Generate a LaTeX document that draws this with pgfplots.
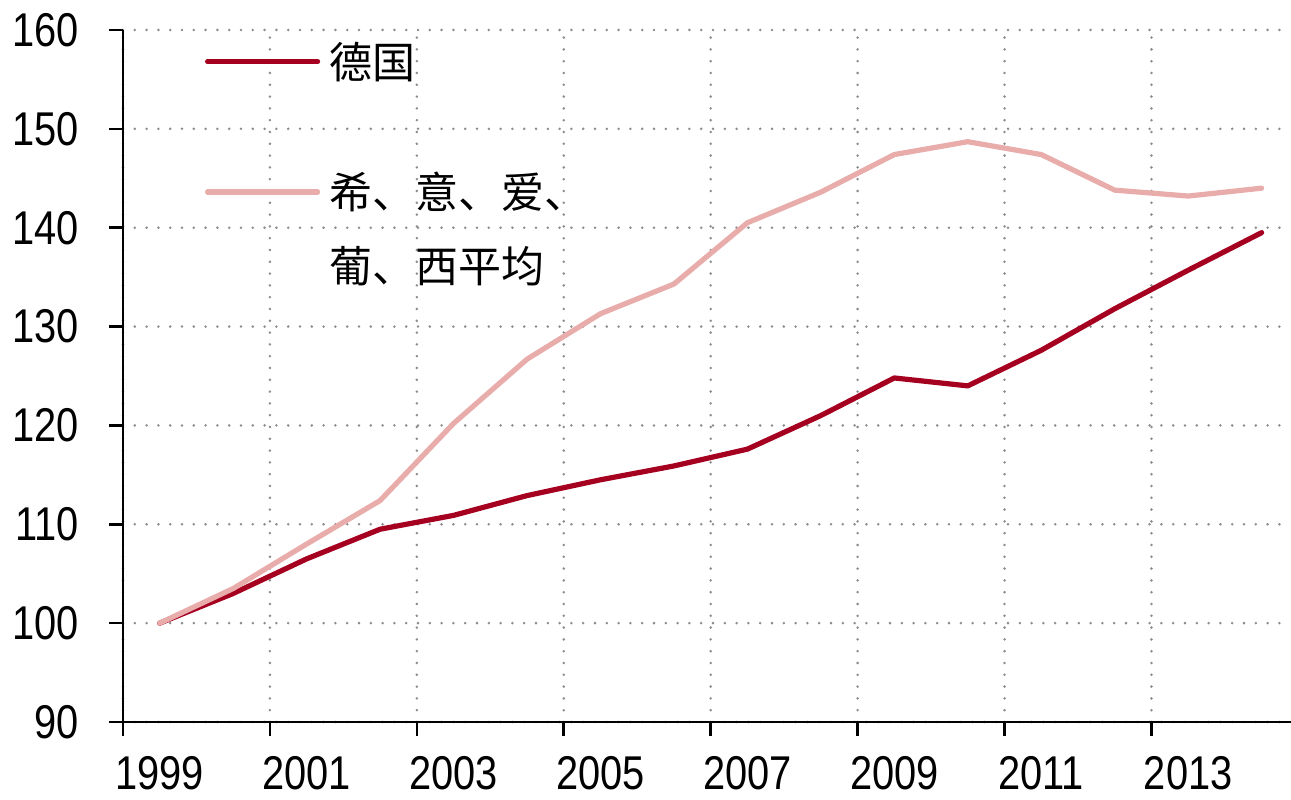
\documentclass[border=0pt]{standalone}
\usepackage{pgfplots}
\pgfplotsset{compat=1.18}
\usepackage{fontspec}
\setmainfont{Liberation Sans}
\newfontfamily\numfont{Liberation Sans}[FakeStretch=0.84]
\newfontfamily\cjk{Noto Sans CJK SC}
\definecolor{de}{RGB}{166,0,33}
\definecolor{gr}{RGB}{232,172,170}
\definecolor{gridc}{RGB}{140,140,140}
\begin{document}
\begin{tikzpicture}
\begin{axis}[
  scale only axis, width=584pt, height=346pt,
  xmin=1999, xmax=2014.9, ymin=90, ymax=160,
  axis lines=left, axis line style={line width=1.3pt, -},
  xtick={1999,2001,...,2013},
  xticklabels={1999,2001,2003,2005,2007,2009,2011,2013},
  ytick={90,100,...,160},
  tick align=outside, tick style={line width=1.3pt, black},
  major tick length=7pt,
  xmajorgrids, ymajorgrids,
  grid style={gridc, line width=1.4pt, dash pattern=on 0pt off 5.9pt, line cap=round},
  /pgf/number format/assume math mode=true,
  ticklabel style={font=\numfont\fontsize{23.7pt}{26pt}\selectfont},
  xticklabel style={anchor=north, inner sep=0pt, xshift=18.36pt, yshift=-10pt},
  yticklabel style={anchor=east, inner sep=0pt, xshift=-15pt},
  clip=false,
  legend cell align=left,
  legend style={at={(axis description cs:0,1)}, anchor=north west, xshift=41pt, yshift=-6pt,
    draw=none, fill=none, inner sep=0pt, outer sep=0pt,
    font=\cjk\fontsize{21.5pt}{25pt}\selectfont,
    row sep=45.5pt, column sep=4.5pt, nodes={inner sep=0pt}},
  legend image code/.code={\draw[#1, line width=2.6pt, line cap=round] (0pt,0pt) -- (55pt,0pt);},
]
\addplot[de, line width=2.6pt, line join=round, line cap=round] coordinates {
 (1999.5,100) (2000.5,103.0) (2001.5,106.5) (2002.5,109.5) (2003.5,110.9)
 (2004.5,112.9) (2005.5,114.5) (2006.5,115.9) (2007.5,117.6) (2008.5,121.0)
 (2009.5,124.8) (2010.5,124.0) (2011.5,127.6) (2012.5,131.8) (2013.5,135.7) (2014.5,139.5)};
\addlegendentry{德国}
\addplot[gr, line width=2.6pt, line join=round, line cap=round] coordinates {
 (1999.5,100) (2000.5,103.5) (2001.5,108.0) (2002.5,112.4) (2003.5,120.2)
 (2004.5,126.7) (2005.5,131.3) (2006.5,134.3) (2007.5,140.5) (2008.5,143.6)
 (2009.5,147.4) (2010.5,148.7) (2011.5,147.4) (2012.5,143.8) (2013.5,143.2) (2014.5,144.0)};
\addlegendentry{\vtop{\baselineskip=37pt\hbox{希、意、爱、}\hbox{葡、西平均}}}
\coordinate (sw) at (rel axis cs:0,0);
\coordinate (ne) at (rel axis cs:1,1);
\end{axis}
\pgfresetboundingbox
\path ([xshift=-61.5pt,yshift=-39pt]sw) rectangle ([yshift=15pt]ne);
\end{tikzpicture}
\end{document}
